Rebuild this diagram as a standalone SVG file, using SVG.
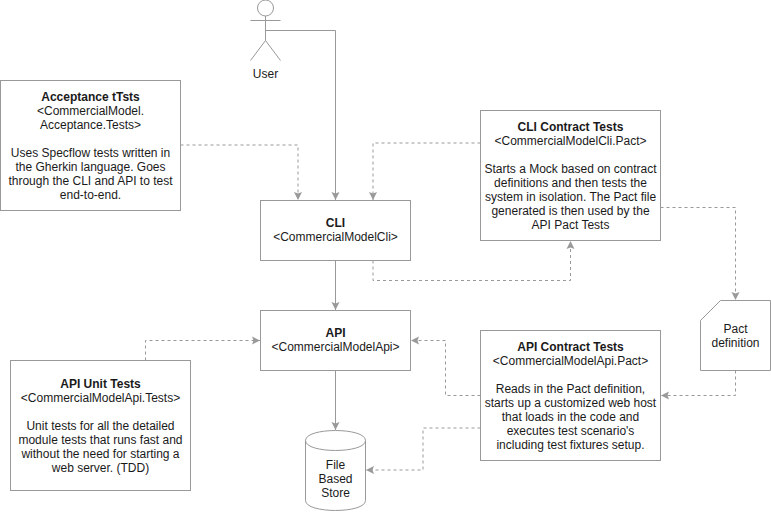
<svg xmlns="http://www.w3.org/2000/svg" width="771" height="512" viewBox="0 0 771 512">
<style>
.s{fill:#fff;stroke:#999;stroke-width:1}
.n{fill:none;stroke:#999;stroke-width:1}
.c{fill:none;stroke:#999;stroke-width:1;marker-end:url(#a)}
.d{stroke-dasharray:3 3}
text{font-family:"Liberation Sans",Arial,sans-serif;font-size:12px;fill:#1a1a1a;text-anchor:middle}
.b{font-weight:bold}
</style>
<defs>
<marker id="a" markerUnits="userSpaceOnUse" markerWidth="10" markerHeight="10" refX="8" refY="4.5" orient="auto">
<path d="M0 0.5L8 4.5L0 8.5L1.5 4.5Z" fill="#999"/>
</marker>
</defs>
<rect width="771" height="512" fill="#fff"/>
<g id="connectors">
<path class="c" d="M265.5 30.5H335.5V200"/>
<path class="c" d="M335.5 260.5V310"/>
<path class="c" d="M335.5 370.5V430"/>
<path class="c d" d="M180.5 145H298V200"/>
<path class="c d" d="M480.5 143H373V200"/>
<path class="c d" d="M373 260.5V280.5H570.5V241"/>
<path class="c d" d="M660.5 207.5H735.5V300"/>
<path class="c d" d="M735.5 370.5V395.5H661"/>
<path class="c d" d="M480.5 395.5H445.5V340.5H411"/>
<path class="c d" d="M145.5 360.5V340.5H260"/>
<path class="c d" d="M480.5 428H423V470H366"/>
</g>
<g id="user">
<circle class="n" cx="265.5" cy="8" r="8"/>
<path class="n" d="M265.5 16V40.5M250.5 20.5H280.5M250.5 60.5L265.5 40.5L280.5 60.5"/>
<text x="265.5" y="78">User</text>
</g>
<g id="acceptance">
<rect class="s" x="0.5" y="80.5" width="180" height="130"/>
<text class="b" x="90.5" y="101">Acceptance tTsts</text>
<text x="90.5" y="115">&lt;CommercialModel.</text>
<text x="90.5" y="129">Acceptance.Tests&gt;</text>
<text x="90.5" y="157">Uses Specflow tests written in</text>
<text x="90.5" y="171">the Gherkin language. Goes</text>
<text x="90.5" y="185">through the CLI and API to test</text>
<text x="90.5" y="199">end-to-end.</text>
</g>
<g id="cli">
<rect class="s" x="260.5" y="200.5" width="150" height="60"/>
<text class="b" x="335.5" y="227">CLI</text>
<text x="335.5" y="241">&lt;CommercialModelCli&gt;</text>
</g>
<g id="api">
<rect class="s" x="260.5" y="310.5" width="150" height="60"/>
<text class="b" x="335.5" y="337">API</text>
<text x="335.5" y="351">&lt;CommercialModelApi&gt;</text>
</g>
<g id="cli-contract">
<rect class="s" x="480.5" y="110.5" width="180" height="130"/>
<text class="b" x="570.5" y="131">CLI Contract Tests</text>
<text x="570.5" y="145">&lt;CommercialModelCli.Pact&gt;</text>
<text x="570.5" y="173">Starts a Mock based on contract</text>
<text x="570.5" y="187">definitions and then tests the</text>
<text x="570.5" y="201">system in isolation. The Pact file</text>
<text x="570.5" y="215">generated is then used by the</text>
<text x="570.5" y="229">API Pact Tests</text>
</g>
<g id="api-contract">
<rect class="s" x="480.5" y="330.5" width="180" height="130"/>
<text class="b" x="570.5" y="351">API Contract Tests</text>
<text x="570.5" y="365">&lt;CommercialModelApi.Pact&gt;</text>
<text x="570.5" y="393">Reads in the Pact definition,</text>
<text x="570.5" y="407">starts up a customized web host</text>
<text x="570.5" y="421">that loads in the code and</text>
<text x="570.5" y="435">executes test scenario's</text>
<text x="570.5" y="449">including test fixtures setup.</text>
</g>
<g id="api-unit">
<rect class="s" x="10.5" y="360.5" width="180" height="130"/>
<text class="b" x="100.5" y="388">API Unit Tests</text>
<text x="100.5" y="402">&lt;CommercialModelApi.Tests&gt;</text>
<text x="100.5" y="430">Unit tests for all the detailed</text>
<text x="100.5" y="444">module tests that runs fast and</text>
<text x="100.5" y="458">without the need for starting a</text>
<text x="100.5" y="472">web server. (TDD)</text>
</g>
<g id="pact">
<path class="s" d="M720.5 300.5H770.5V370.5H700.5V320.5Z"/>
<text x="735.5" y="333">Pact</text>
<text x="735.5" y="347">definition</text>
</g>
<g id="store">
<path class="s" d="M305.5 440.5C305.5 427.2 365.5 427.2 365.5 440.5V500.5C365.5 513.8 305.5 513.8 305.5 500.5Z"/>
<path class="n" d="M305.5 440.5C305.5 453.8 365.5 453.8 365.5 440.5"/>
<text x="335.5" y="469">File</text>
<text x="335.5" y="483">Based</text>
<text x="335.5" y="497">Store</text>
</g>
</svg>
